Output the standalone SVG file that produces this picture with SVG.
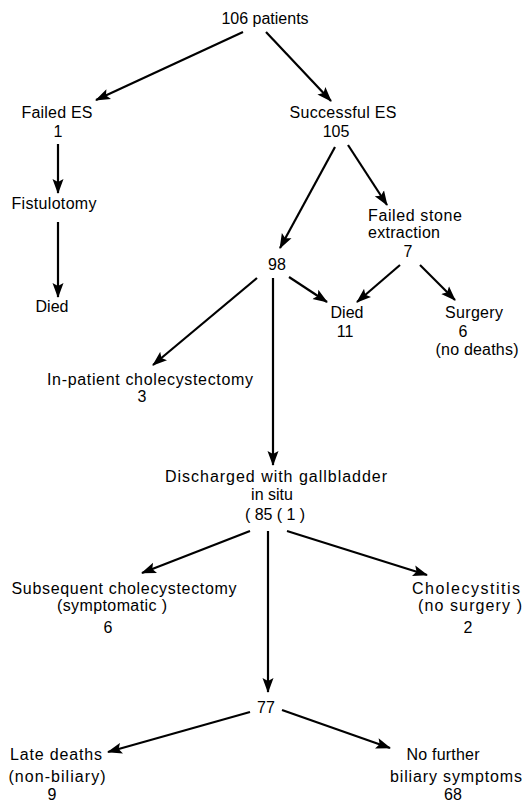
<svg xmlns="http://www.w3.org/2000/svg" width="522" height="806" viewBox="0 0 522 806">
<style>
text{font-family:"Liberation Sans","DejaVu Sans",sans-serif;font-size:16px;fill:#000;text-anchor:middle}
.c line{stroke:#000;stroke-width:2.2;fill:none;marker-end:url(#ah)}
</style>
<defs>
<marker id="ah" markerUnits="userSpaceOnUse" markerWidth="16" markerHeight="12" refX="14" refY="6" orient="auto">
<path d="M0,0.5 L15,6 L0,11.5 L3,6 z" fill="#000"/>
</marker>
</defs>
<rect width="522" height="806" fill="#fff"/>
<g class="c" id="connectors">
<line x1="243" y1="32" x2="96" y2="100"/>
<line x1="266" y1="32" x2="331" y2="101"/>
<line x1="58" y1="144" x2="58" y2="193"/>
<line x1="58" y1="222" x2="58" y2="297"/>
<line x1="335" y1="147" x2="280" y2="248"/>
<line x1="348" y1="145" x2="387" y2="205"/>
<line x1="257" y1="278" x2="153" y2="365"/>
<line x1="273" y1="278" x2="273" y2="465"/>
<line x1="289" y1="277" x2="327" y2="302"/>
<line x1="400" y1="265" x2="357" y2="302"/>
<line x1="420" y1="265" x2="455" y2="300"/>
<line x1="250" y1="531" x2="142" y2="573"/>
<line x1="268" y1="531" x2="268" y2="692"/>
<line x1="287" y1="531" x2="427" y2="575"/>
<line x1="250" y1="712" x2="108" y2="752"/>
<line x1="282" y1="710" x2="390" y2="748"/>
</g>
<g id="n-root"><text x="265" y="24">106 patients</text></g>
<g id="n-failed"><text x="57" y="118" textLength="71">Failed ES</text><text x="58" y="137">1</text></g>
<g id="n-success"><text x="343" y="118" textLength="107">Successful ES</text><text x="336" y="137">105</text></g>
<g id="n-fistulotomy"><text x="54" y="209" textLength="85">Fistulotomy</text></g>
<g id="n-died1"><text x="52" y="312">Died</text></g>
<g id="n-failedstone"><text x="415" y="221" textLength="94">Failed stone</text><text x="404" y="238" textLength="72">extraction</text><text x="408" y="257">7</text></g>
<g id="n-98"><text x="277" y="270">98</text></g>
<g id="n-died11"><text x="347" y="318">Died</text><text x="345" y="337">11</text></g>
<g id="n-surgery"><text x="474" y="318" textLength="58">Surgery</text><text x="463" y="337">6</text><text x="477" y="355" textLength="83">(no deaths)</text></g>
<g id="n-inpatient"><text x="150" y="385" textLength="206">In-patient cholecystectomy</text><text x="142" y="402">3</text></g>
<g id="n-discharged"><text x="276" y="482" textLength="222">Discharged with gallbladder</text><text x="272" y="500">in situ</text><text x="275" y="520" textLength="60">( 85 ( 1 )</text></g>
<g id="n-subsequent"><text x="124" y="594" textLength="225">Subsequent cholecystectomy</text><text x="112" y="611" textLength="110">(symptomatic )</text><text x="108" y="633">6</text></g>
<g id="n-cholecystitis"><text x="466" y="594" textLength="108">Cholecystitis</text><text x="470" y="611" textLength="104">(no surgery )</text><text x="468" y="633">2</text></g>
<g id="n-77"><text x="266" y="713">77</text></g>
<g id="n-late"><text x="56" y="760" textLength="92">Late deaths</text><text x="57" y="782" textLength="97">(non-biliary)</text><text x="52" y="800">9</text></g>
<g id="n-nofurther"><text x="443" y="760" textLength="73">No further</text><text x="456" y="782" textLength="132">biliary symptoms</text><text x="453" y="800">68</text></g>
</svg>
